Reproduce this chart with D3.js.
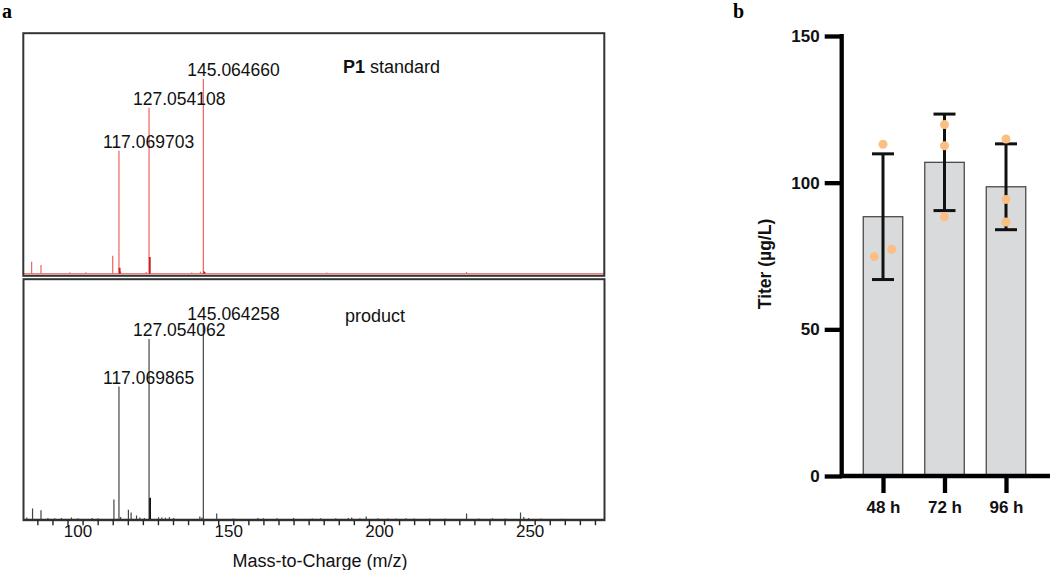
<!DOCTYPE html>
<html>
<head>
<meta charset="utf-8">
<script src="https://cdn.jsdelivr.net/npm/d3@7/dist/d3.min.js"></script>
<style>
  html, body { margin: 0; padding: 0; background: #fff; }
  svg { display: block; font-family: "Liberation Sans", Arial, Helvetica, sans-serif; }
</style>
</head>
<body>
<svg id="fig" width="1050" height="570"></svg>
<script>
// ---------- panel a : MS spectra (m/z, relative intensity %) ----------
const stdMain = [[117.069703, 51.1], [127.054108, 69.0], [145.064660, 81.0]];
const stdMinor = [[88.1, 5.0], [91.2, 3.7], [100.8, 0.6], [106.1, 0.6], [115.0, 7.5],
  [117.6, 1.0], [126.1, 0.7], [141.2, 0.5], [144.1, 0.9], [145.7, 0.8], [186.0, 0.5], [232.4, 0.8]];
const stdShoulder = [[117.3, 2.5], [127.3, 7.0], [145.3, 1.0]];

const prodMain = [[117.069865, 55.3], [127.054062, 75.1], [145.064258, 81.8]];
const prodMinor = [[86.5, 0.8], [88.4, 4.6], [91.2, 3.9], [93.5, 0.6], [95.8, 0.5], [98.0, 0.6],
  [101.3, 0.8], [103.5, 0.5], [108.2, 0.6], [110.1, 0.5], [115.4, 8.3], [117.6, 1.0], [120.2, 4.1],
  [121.1, 2.9], [122.9, 1.7], [124.0, 0.8], [125.5, 0.6], [130.2, 0.9], [131.3, 0.8], [132.5, 0.7],
  [133.8, 0.9], [135.2, 0.6], [143.9, 1.2], [144.6, 0.8], [149.5, 2.5], [155.0, 0.4], [163.2, 0.6],
  [165.0, 0.5], [169.5, 0.5], [175.0, 0.6], [181.2, 0.4], [184.0, 0.5], [189.0, 0.5], [193.2, 0.6],
  [194.3, 0.8], [197.0, 0.5], [199.1, 1.2], [203.0, 0.5], [206.3, 0.4], [209.0, 0.4], [212.3, 0.5],
  [215.0, 0.4], [220.1, 0.4], [225.3, 0.4], [232.4, 2.5], [236.5, 0.4], [241.0, 0.5], [245.2, 0.4],
  [250.3, 2.9], [251.4, 1.0], [253.0, 0.6], [257.1, 0.4], [264.0, 0.3]];
const prodShoulder = [[127.4, 9.1]];

const mzTicks = d3.range(90, 276, 5);
const mzLabelTicks = [100, 150, 200, 250];

// ---------- panel b : titer bar chart ----------
const timeLabels = ["48 h", "72 h", "96 h"];
const titerReps = [[113.1, 74.8, 77.3], [119.8, 112.6, 88.4], [114.9, 94.3, 86.6]];
const titerTicks = [0, 50, 100, 150];

const svg = d3.select("#fig");
svg.append("rect").attr("width", 1050).attr("height", 570).attr("fill", "#fff");

// shared m/z scale
const x = d3.scaleLinear().domain([84.9, 278]).range([22, 604]);

function spectrum(cfg) {
  const g = svg.append("g");
  const y = d3.scaleLinear().domain([0, 100]).range([cfg.base, cfg.top]);
  const clipId = "clip" + cfg.name;
  svg.append("clipPath").attr("id", clipId)
    .append("rect").attr("x", cfg.box[0]).attr("y", cfg.box[1]).attr("width", cfg.box[2]).attr("height", cfg.box[3]);
  const inner = g.append("g").attr("clip-path", `url(#${clipId})`);

  // baseline
  inner.append("line").attr("x1", cfg.box[0]).attr("x2", cfg.box[0] + cfg.box[2])
    .attr("y1", cfg.base).attr("y2", cfg.base).attr("stroke", cfg.baseColor).attr("stroke-width", cfg.baseW);

  const peak = (sel, data, color, w) => sel.selectAll(null).data(data).join("line")
    .attr("x1", d => x(d[0])).attr("x2", d => x(d[0]))
    .attr("y1", cfg.base).attr("y2", d => y(d[1]))
    .attr("stroke", color).attr("stroke-width", w);

  peak(inner, cfg.minor, cfg.mainColor, 1.2);
  peak(inner, cfg.main, cfg.mainColor, 1.2);
  peak(inner, cfg.shoulder, cfg.darkColor, 1.8);

  g.selectAll(null).data(cfg.main).join("text")
    .attr("x", d => x(d[0]) - 16).attr("y", d => y(d[1]) - 3)
    .attr("font-size", 17.5).attr("fill", "#111")
    .text(d => d[0].toFixed(6));

  g.append("rect").attr("x", cfg.box[0]).attr("y", cfg.box[1]).attr("width", cfg.box[2]).attr("height", cfg.box[3])
    .attr("fill", "none").attr("stroke", "#333").attr("stroke-width", 2);
  return g;
}

const gTop = spectrum({ name: "std", box: [23.3, 33.2, 581, 242.6], base: 273.8, top: 33.2,
  main: stdMain, minor: stdMinor, shoulder: stdShoulder,
  mainColor: "#ef6262", darkColor: "#c81e1e", baseColor: "#e84a4a", baseW: 1 });
const tTop = gTop.append("text").attr("x", 343).attr("y", 72.5).attr("font-size", 18).attr("fill", "#111");
tTop.append("tspan").attr("font-weight", "bold").text("P1");
tTop.append("tspan").text(" standard");

const gBot = spectrum({ name: "prod", box: [23.5, 279.2, 581, 241], base: 519.5, top: 279.2,
  main: prodMain, minor: prodMinor, shoulder: prodShoulder,
  mainColor: "#444", darkColor: "#111", baseColor: "#222", baseW: 1.3 });
gBot.append("text").attr("x", 345).attr("y", 322).attr("font-size", 18).attr("fill", "#111").text("product");

// m/z axis
const ax = svg.append("g").attr("transform", "translate(0,520.2)")
  .call(d3.axisBottom(x).tickValues(mzTicks).tickSize(5).tickSizeOuter(0)
    .tickFormat(d => mzLabelTicks.includes(d) ? d : ""));
ax.select(".domain").remove();
ax.selectAll(".tick line").attr("stroke", "#222").attr("stroke-width", 1.4);
ax.selectAll(".tick text").attr("font-size", 17).attr("fill", "#111").attr("dx", 10).attr("dy", 9)
  .attr("font-family", "Liberation Sans, Arial, sans-serif");
svg.append("text").attr("x", 320).attr("y", 567).attr("text-anchor", "middle")
  .attr("font-size", 18).attr("fill", "#111").text("Mass-to-Charge (m/z)");

svg.append("text").attr("x", 2).attr("y", 18).attr("font-family", "Liberation Serif, Times New Roman, serif")
  .attr("font-weight", "bold").attr("font-size", 20).text("a");
svg.append("text").attr("x", 733).attr("y", 18).attr("font-family", "Liberation Serif, Times New Roman, serif")
  .attr("font-weight", "bold").attr("font-size", 20).text("b");

// ---------- panel b ----------
const yB = d3.scaleLinear().domain([0, 150]).range([476, 36]);
const xB = d3.scalePoint().domain(timeLabels).range([883, 1006]);
const barW = 39.5;
const stats = titerReps.map((v, i) => ({ t: timeLabels[i], reps: v, mean: d3.mean(v), sd: d3.deviation(v) }));

const gb = svg.append("g");
gb.selectAll(null).data(stats).join("rect")
  .attr("x", d => xB(d.t) - barW / 2).attr("width", barW)
  .attr("y", d => yB(d.mean)).attr("height", d => yB(0) - yB(d.mean))
  .attr("fill", "#d9dadc").attr("stroke", "#4a4a4a").attr("stroke-width", 1.3);

// error bars (mean ± SD)
const eb = gb.selectAll(null).data(stats).join("g").attr("stroke", "#111").attr("stroke-width", 3);
eb.append("line").attr("x1", d => xB(d.t)).attr("x2", d => xB(d.t))
  .attr("y1", d => yB(d.mean + d.sd)).attr("y2", d => yB(d.mean - d.sd));
eb.append("line").attr("x1", d => xB(d.t) - 11).attr("x2", d => xB(d.t) + 11)
  .attr("y1", d => yB(d.mean + d.sd)).attr("y2", d => yB(d.mean + d.sd));
eb.append("line").attr("x1", d => xB(d.t) - 11).attr("x2", d => xB(d.t) + 11)
  .attr("y1", d => yB(d.mean - d.sd)).attr("y2", d => yB(d.mean - d.sd));

// replicate dots, spread sideways when values nearly collide
const dots = [];
stats.forEach(s => {
  s.reps.forEach((v, j) => {
    const near = s.reps.findIndex((w, k) => k !== j && Math.abs(w - v) < 4);
    const off = near < 0 ? 0 : (j < near ? -8.7 : 8.7);
    dots.push({ cx: xB(s.t) + off, v });
  });
});
gb.selectAll(null).data(dots).join("circle")
  .attr("cx", d => d.cx).attr("cy", d => yB(d.v)).attr("r", 4.5).attr("fill", "#fbbf84");

// axes
const ay = svg.append("g").attr("transform", "translate(841.7,0)")
  .call(d3.axisLeft(yB).tickValues(titerTicks).tickSize(17).tickSizeOuter(0).tickPadding(5));
ay.select(".domain").remove();
ay.selectAll(".tick line").attr("stroke", "#000").attr("stroke-width", 4.3);
ay.selectAll(".tick text").attr("font-size", 17).attr("font-weight", "bold").attr("fill", "#111")
  .attr("font-family", "Liberation Sans, Arial, sans-serif");
svg.append("line").attr("x1", 841.7).attr("x2", 841.7).attr("y1", 33.9).attr("y2", 478)
  .attr("stroke", "#000").attr("stroke-width", 4.3);

const axB = svg.append("g").attr("transform", "translate(0,476)")
  .call(d3.axisBottom(xB).tickSize(17).tickSizeOuter(0).tickPadding(8));
axB.select(".domain").remove();
axB.selectAll(".tick line").attr("stroke", "#000").attr("stroke-width", 4.3);
axB.selectAll(".tick text").attr("font-size", 17).attr("font-weight", "bold").attr("fill", "#111")
  .attr("font-family", "Liberation Sans, Arial, sans-serif");
svg.append("line").attr("x1", 840).attr("x2", 1050).attr("y1", 476).attr("y2", 476)
  .attr("stroke", "#000").attr("stroke-width", 4.3);

svg.append("text").attr("transform", "translate(771,264) rotate(-90)").attr("text-anchor", "middle")
  .attr("font-size", 17.5).attr("font-weight", "bold").attr("fill", "#111").text("Titer (µg/L)");
</script>
</body>
</html>
